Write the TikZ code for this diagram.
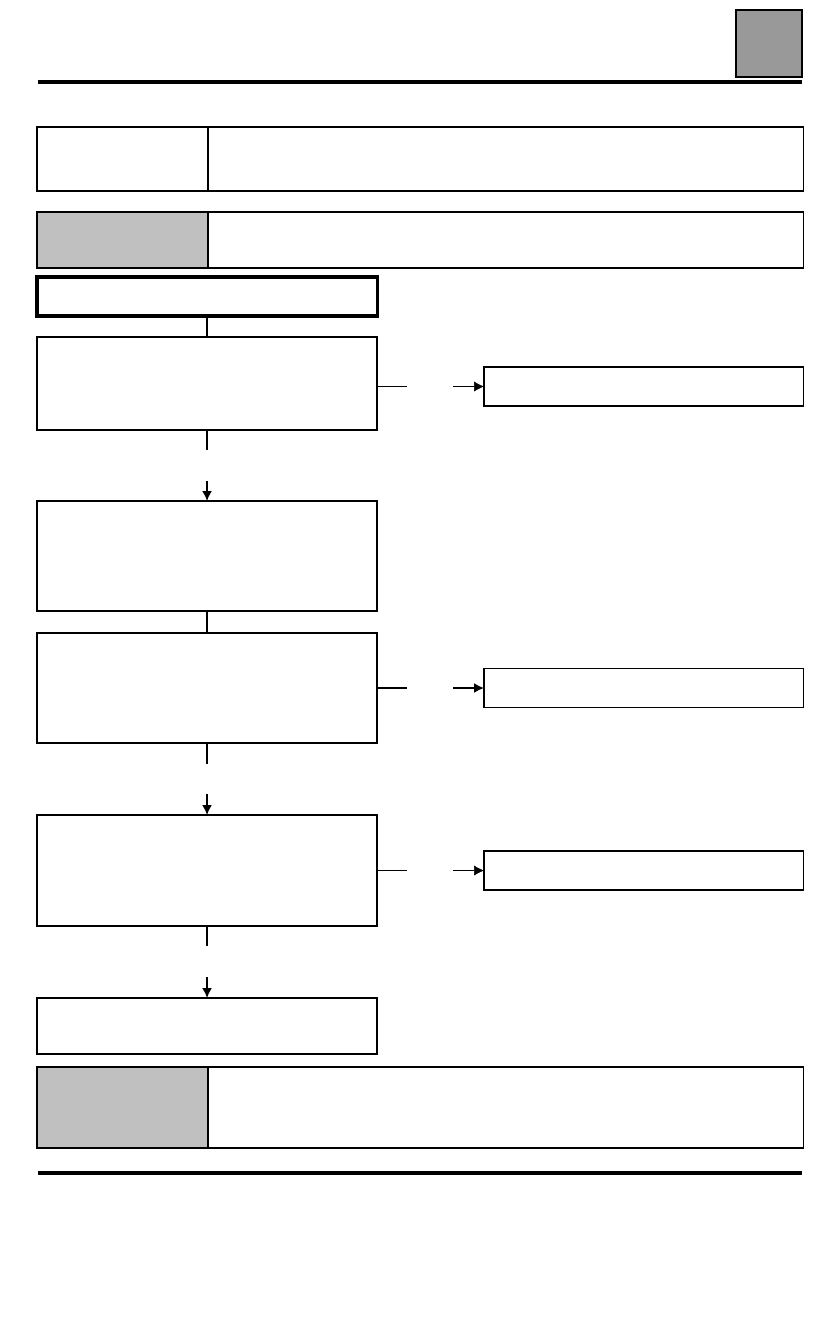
\documentclass[tikz,border=0pt]{standalone}
\usetikzlibrary{positioning, calc, arrows.meta}

\definecolor{tabgray}{HTML}{C0C0C0}
\definecolor{markgray}{HTML}{999999}

\begin{document}
\begin{tikzpicture}[x=0.025cm, y=-0.025cm, node distance=0.525cm, >={Latex[length=0.25cm, width=0.25cm]},
	every node/.style={rectangle, draw, inner sep=0pt, outer sep=0pt, anchor=north west, line width=0.9pt},
	tab/.style={minimum width=4.275cm},
	cell/.style={minimum width=14.875cm},
	stepbox/.style={minimum width=8.5cm},
	resbox/.style={minimum width=7.975cm, minimum height=0.975cm}]
			\useasboundingbox (0,0) rectangle (840,1320);

			% header
			\node[fill=markgray, line width=1.5pt, minimum width=1.65cm, minimum height=1.675cm] (mark) at (736,10) {};
			\draw[line width=2.2pt] (38,82) -- (802,82);

			\node[tab, minimum height=1.6cm] (infolab) at (37,127) {};
			\node[cell, minimum height=1.6cm, right=0pt of infolab] (infotxt) {};
			\node[tab, fill=tabgray, minimum height=1.4cm] (notelab) at (37,212) {};
			\node[cell, minimum height=1.4cm, right=0pt of notelab] (notetxt) {};

			% steps
			\node[stepbox, line width=2.2pt, minimum height=0.975cm] (start) at (37,277) {};
			\node[stepbox, minimum height=2.325cm] (stepA) at (37,337) {};
			\node[stepbox, minimum height=2.75cm] (stepB) at (37,501) {};
			\node[stepbox, minimum height=2.75cm] (stepC) at (37,633) {};
			\node[stepbox, minimum height=2.775cm] (stepD) at (37,815) {};
			\node[stepbox, minimum height=1.4cm] (stepE) at (37,998) {};

			\node[resbox, anchor=west, right=2.675cm of stepA, yshift=-0.075cm] (resA) {};
			\node[resbox, anchor=west, right=2.675cm of stepC] (resC) {};
			\node[resbox, anchor=west, right=2.675cm of stepD] (resD) {};

			\node[tab, fill=tabgray, minimum height=2.025cm] (endlab) at (37,1067) {};
			\node[cell, minimum height=2.025cm, right=0pt of endlab] (endtxt) {};
			\draw[line width=2.2pt] (38,1173) -- (802,1173);

			% connectors
			\coordinate (gapA) at ($(stepA.south)+(0,20)$);
			\coordinate (tipA) at ($(stepB.north)+(0,-20)$);
			\coordinate (gapC) at ($(stepC.south)+(0,21)$);
			\coordinate (tipC) at ($(stepD.north)+(0,-21)$);
			\coordinate (gapD) at ($(stepD.south)+(0,20)$);
			\coordinate (tipD) at ($(stepE.north)+(0,-21)$);
			\coordinate (sideA) at ($(stepA.east |- resA.west)+(30,0)$);
			\coordinate (inA) at ($(resA.west)+(-31,0)$);
			\coordinate (sideC) at ($(stepC.east)+(30,0)$);
			\coordinate (inC) at ($(resC.west)+(-31,0)$);
			\coordinate (sideD) at ($(stepD.east)+(30,0)$);
			\coordinate (inD) at ($(resD.west)+(-31,0)$);

			\begin{scope}[line width=1.2pt]
			\draw (start) -- (stepA);
			\draw (stepA) -- (gapA);
			\draw[->] (tipA) -- (stepB);
			\draw (stepB) -- (stepC);
			\draw (stepC) -- (gapC);
			\draw[->] (tipC) -- (stepD);
			\draw (stepD) -- (gapD);
			\draw[->] (tipD) -- (stepE);
			\end{scope}

			\draw (stepA.east |- resA.west) -- (sideA);
			\draw[->] (inA) -- (resA);
			\draw[line width=1.5pt] (stepC) -- (sideC);
			\draw[->, line width=1.5pt] (inC) -- (resC);
			\draw (stepD) -- (sideD);
			\draw[->] (inD) -- (resD);
		\end{tikzpicture}
\end{document}
